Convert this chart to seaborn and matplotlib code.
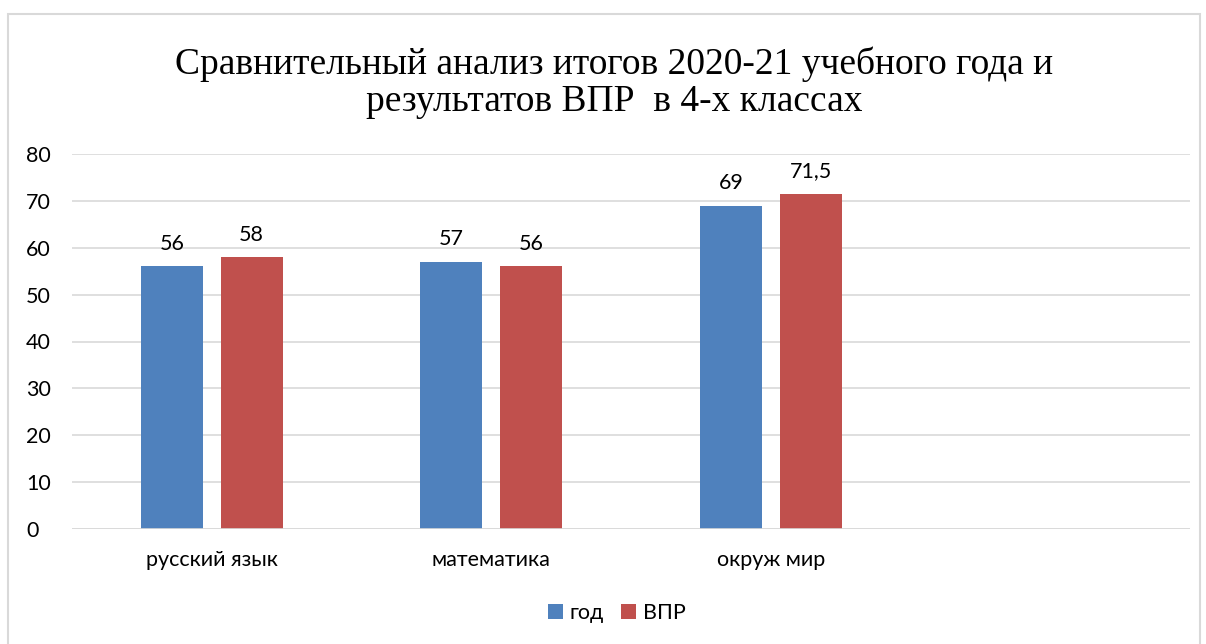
import pandas as pd
import numpy as np
import matplotlib.pyplot as plt
import matplotlib.patches as mpatches
import seaborn as sns

subjects = ['русский язык', 'математика', 'окруж мир']
year_scores = [56, 57, 69]
vpr_scores = [58, 56, 71.5]
series = ['год', 'ВПР']
colors = ['#4F81BD', '#C0504D']

df = pd.DataFrame({
    'subject': subjects * 2,
    'series': [series[0]] * 3 + [series[1]] * 3,
    'value': year_scores + vpr_scores,
})

sns.set_theme(style='white')
plt.rcParams['font.family'] = ['Lato', 'DejaVu Sans']
plt.rcParams['text.color'] = 'black'

fig = plt.figure(figsize=(12.06, 6.44), dpi=100)
ax = fig.add_axes([72 / 1206, 1 - 529 / 644, (1190 - 72) / 1206, (529 - 154) / 644])

sns.barplot(data=df, x='subject', y='value', hue='series', order=subjects,
            palette=colors, saturation=1, width=0.571, gap=0.225, linewidth=0,
            ax=ax, legend=True)

ax.set_xlim(-0.5, 3.5)
ax.set_ylim(0, 80)
ax.set_yticks(range(0, 81, 10))
ax.yaxis.grid(True, color='#D9D9D9', linewidth=1.2)
ax.set_axisbelow(True)
for s in ax.spines.values():
    s.set_visible(False)
ax.axhline(0, color='#D9D9D9', linewidth=1.2, zorder=1)
ax.tick_params(axis='both', length=0, labelsize=15.5, colors='black')
ax.tick_params(axis='x', pad=15)
ax.tick_params(axis='y', pad=33)
for lab in ax.get_yticklabels():
    lab.set_horizontalalignment('left')
ax.set_xlabel('')
ax.set_ylabel('')

for cont in ax.containers:
    labels = [f'{v:g}'.replace('.', ',') for v in cont.datavalues]
    ax.bar_label(cont, labels=labels, padding=9, fontsize=15.5, color='black')

handles, labs = ax.get_legend_handles_labels()
ax.legend(handles, labs, loc='center', bbox_to_anchor=(617 / 1206, 1 - 613 / 644),
          bbox_transform=fig.transFigure, ncol=2, frameon=False, fontsize=15.5,
          handlelength=0.7, handleheight=0.7, handletextpad=0.3, columnspacing=0.8)

fig.text(614 / 1206, 1 - 83 / 644,
         'Сравнительный анализ итогов 2020-21 учебного года и\nрезультатов ВПР  в 4-х классах',
         ha='center', va='center', fontsize=27, family=['Liberation Serif', 'DejaVu Serif'],
         linespacing=1.1, color='black')

fig.patches.append(mpatches.Rectangle((8 / 1206, -0.01), (1200 - 8) / 1206, 1 - 14 / 644 + 0.01,
                                      transform=fig.transFigure, fill=False,
                                      edgecolor='#D9D9D9', linewidth=1.5))

fig.savefig('out.png', dpi=100)
